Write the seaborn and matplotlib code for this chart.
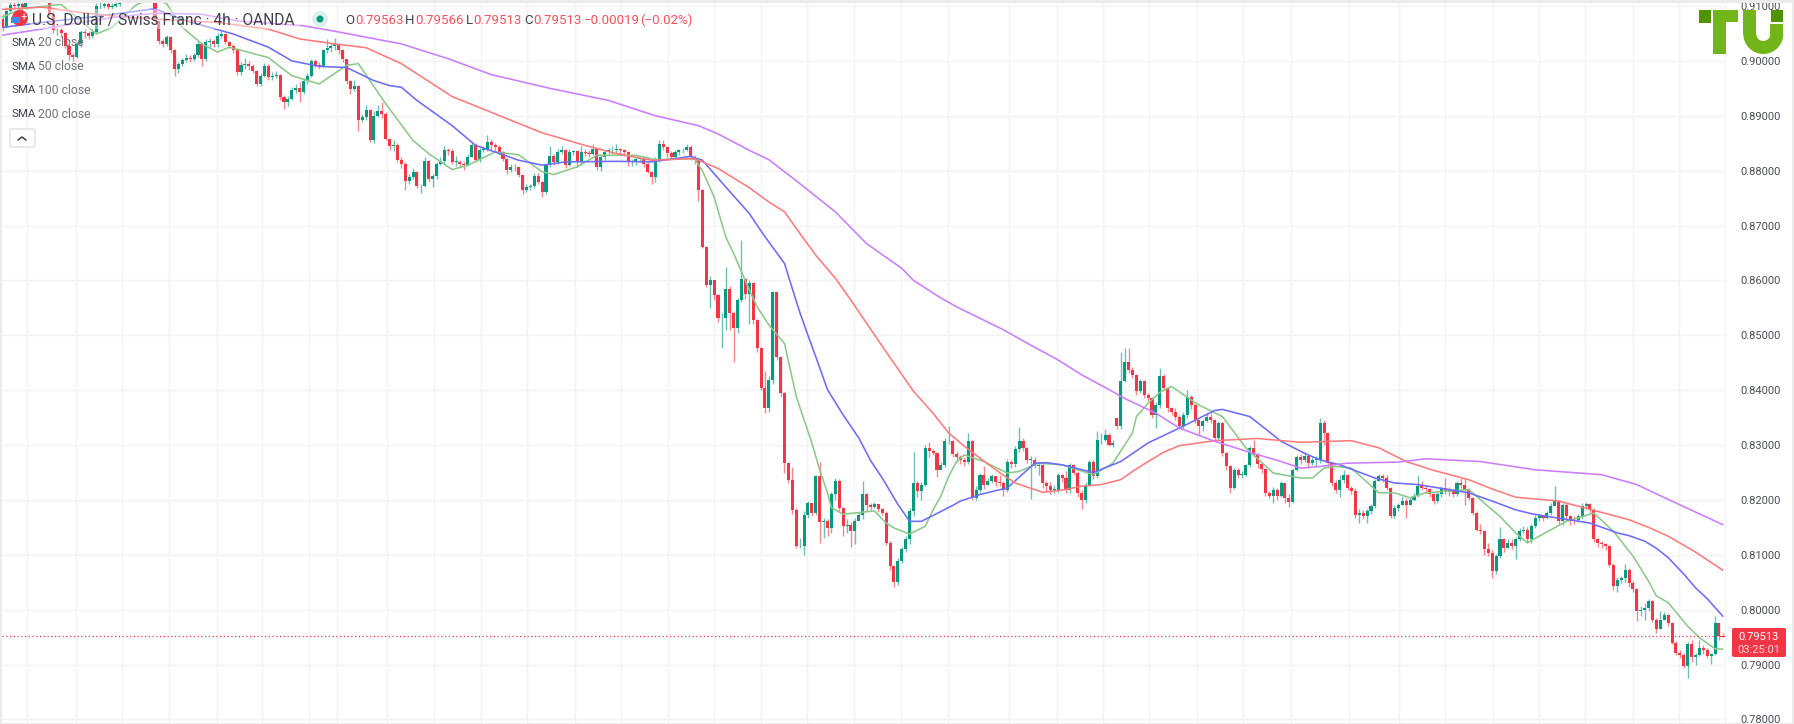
#!/usr/bin/env python
"""USD/CHF 4h candles with SMA 20/50/100/200."""
import matplotlib
matplotlib.use('Agg')
import matplotlib.pyplot as plt
from matplotlib.patches import Circle, FancyBboxPatch, Rectangle, Wedge
import numpy as np
import pandas as pd
import seaborn as sns

# candle values, price x 10000, 12 bars a row
closes = [
    9061, 9091, 9102, 9100, 9103, 9098, 9108, 9112, 9114, 9112, 9115, 9113,
    9085, 9056, 9056, 9050, 9028, 9010, 9008, 9030, 9052, 9050, 9045, 9053,
    9100, 9100, 9104, 9098, 9100, 9103, 9112, 9116, 9120, 9118, 9122, 9125,
    9120, 9124, 9128, 9073, 9037, 9031, 9043, 9019, 8985, 8994, 9001, 9006,
    9004, 9010, 9031, 9004, 9034, 9037, 9030, 9046, 9049, 9034, 9028, 9019,
    8979, 8992, 8995, 8990, 8982, 8958, 8973, 8991, 8970, 8972, 8974, 8934,
    8925, 8931, 8947, 8950, 8943, 8964, 8973, 9000, 8992, 8991, 9019, 9024,
    9027, 9030, 9019, 9003, 8964, 8949, 8955, 8892, 8897, 8910, 8856, 8900,
    8909, 8904, 8858, 8845, 8846, 8820, 8813, 8782, 8789, 8798, 8772, 8772,
    8818, 8785, 8790, 8812, 8818, 8837, 8835, 8816, 8816, 8813, 8810, 8825,
    8846, 8819, 8837, 8840, 8852, 8846, 8843, 8834, 8822, 8801, 8807, 8806,
    8792, 8764, 8770, 8772, 8791, 8779, 8761, 8810, 8827, 8816, 8834, 8837,
    8810, 8834, 8835, 8816, 8834, 8833, 8831, 8840, 8807, 8825, 8834, 8837,
    8838, 8840, 8837, 8834, 8816, 8816, 8822, 8822, 8813, 8798, 8788, 8819,
    8849, 8843, 8832, 8825, 8834, 8837, 8837, 8843, 8825, 8819, 8764, 8661,
    8592, 8601, 8573, 8531, 8531, 8585, 8540, 8513, 8564, 8603, 8576, 8595,
    8528, 8476, 8404, 8367, 8419, 8579, 8461, 8394, 8267, 8237, 8182, 8116,
    8116, 8173, 8194, 8176, 8243, 8160, 8161, 8148, 8210, 8234, 8185, 8152,
    8155, 8143, 8161, 8173, 8210, 8190, 8188, 8192, 8183, 8177, 8122, 8079,
    8050, 8088, 8111, 8128, 8179, 8231, 8216, 8228, 8295, 8290, 8285, 8255,
    8264, 8307, 8307, 8283, 8279, 8273, 8270, 8307, 8204, 8219, 8246, 8228,
    8235, 8243, 8232, 8231, 8218, 8270, 8265, 8292, 8307, 8294, 8273, 8273,
    8261, 8264, 8231, 8225, 8219, 8219, 8246, 8240, 8219, 8264, 8249, 8213,
    8200, 8228, 8270, 8243, 8309, 8310, 8318, 8301, 8304, 8335, 8416, 8452,
    8437, 8428, 8398, 8416, 8392, 8385, 8355, 8373, 8425, 8404, 8367, 8361,
    8352, 8334, 8355, 8388, 8373, 8346, 8334, 8343, 8352, 8346, 8313, 8340,
    8285, 8261, 8222, 8255, 8246, 8246, 8264, 8295, 8282, 8265, 8257, 8213,
    8208, 8219, 8207, 8231, 8204, 8197, 8255, 8279, 8273, 8281, 8267, 8273,
    8273, 8340, 8322, 8267, 8231, 8219, 8237, 8246, 8222, 8216, 8173, 8177,
    8170, 8179, 8189, 8234, 8243, 8240, 8222, 8170, 8185, 8191, 8198, 8191,
    8200, 8207, 8225, 8222, 8220, 8210, 8198, 8210, 8222, 8215, 8218, 8210,
    8231, 8228, 8219, 8204, 8176, 8146, 8143, 8110, 8104, 8070, 8098, 8128,
    8113, 8122, 8116, 8128, 8143, 8146, 8128, 8152, 8167, 8170, 8168, 8176,
    8189, 8198, 8161, 8190, 8170, 8164, 8163, 8170, 8189, 8192, 8182, 8128,
    8122, 8119, 8116, 8082, 8043, 8055, 8058, 8073, 8049, 8037, 7998, 8000,
    8003, 8016, 7982, 7964, 7982, 7990, 7976, 7940, 7922, 7918, 7898, 7937,
    7913, 7918, 7931, 7926, 7916, 7919, 7976, 7952, 7951,
]
highs = [
    9085, 9098, 9112, 9108, 9115, 9112, 9115, 9120, 9120, 9118, 9122, 9120,
    9125, 9092, 9062, 9060, 9052, 9030, 9015, 9034, 9056, 9058, 9054, 9058,
    9106, 9108, 9110, 9108, 9106, 9110, 9118, 9122, 9125, 9125, 9128, 9130,
    9128, 9128, 9134, 9130, 9075, 9040, 9048, 9046, 9022, 8998, 9005, 9012,
    9010, 9014, 9036, 9032, 9040, 9042, 9040, 9050, 9055, 9050, 9036, 9030,
    9020, 8998, 9005, 9000, 8994, 8984, 8978, 8996, 8994, 8980, 8982, 8976,
    8938, 8936, 8952, 8958, 8962, 8968, 8978, 9004, 9003, 8998, 9022, 9040,
    9032, 9042, 9030, 9022, 9004, 8966, 8965, 8956, 8903, 8920, 8912, 8908,
    8920, 8925, 8906, 8860, 8855, 8850, 8824, 8815, 8794, 8804, 8800, 8775,
    8824, 8820, 8794, 8815, 8825, 8845, 8842, 8840, 8826, 8820, 8818, 8830,
    8852, 8850, 8842, 8845, 8865, 8858, 8850, 8846, 8836, 8823, 8812, 8812,
    8806, 8793, 8775, 8776, 8796, 8795, 8782, 8812, 8845, 8830, 8840, 8845,
    8840, 8840, 8838, 8838, 8845, 8840, 8838, 8848, 8842, 8828, 8838, 8842,
    8845, 8848, 8842, 8840, 8835, 8822, 8826, 8825, 8824, 8815, 8800, 8824,
    8855, 8855, 8845, 8835, 8838, 8840, 8842, 8848, 8846, 8828, 8822, 8766,
    8662, 8608, 8600, 8576, 8540, 8625, 8590, 8545, 8568, 8673, 8605, 8600,
    8597, 8530, 8478, 8435, 8425, 8581, 8575, 8462, 8396, 8270, 8260, 8186,
    8130, 8180, 8198, 8195, 8246, 8270, 8168, 8165, 8215, 8240, 8238, 8188,
    8165, 8160, 8168, 8178, 8235, 8213, 8195, 8197, 8192, 8186, 8180, 8125,
    8082, 8094, 8115, 8135, 8185, 8288, 8235, 8232, 8300, 8305, 8292, 8288,
    8270, 8312, 8334, 8310, 8290, 8282, 8278, 8322, 8310, 8225, 8250, 8262,
    8240, 8248, 8244, 8245, 8235, 8275, 8272, 8298, 8333, 8312, 8296, 8280,
    8278, 8270, 8266, 8235, 8232, 8228, 8250, 8248, 8252, 8268, 8266, 8252,
    8218, 8232, 8272, 8272, 8325, 8322, 8330, 8322, 8310, 8349, 8470, 8476,
    8476, 8442, 8430, 8420, 8418, 8395, 8388, 8378, 8440, 8430, 8406, 8370,
    8368, 8354, 8360, 8400, 8392, 8375, 8345, 8348, 8358, 8358, 8348, 8344,
    8342, 8288, 8264, 8258, 8258, 8252, 8266, 8298, 8310, 8285, 8270, 8258,
    8216, 8224, 8222, 8235, 8230, 8210, 8258, 8282, 8284, 8288, 8282, 8278,
    8280, 8349, 8345, 8322, 8267, 8236, 8245, 8255, 8248, 8226, 8222, 8183,
    8182, 8184, 8193, 8238, 8248, 8248, 8245, 8224, 8190, 8195, 8208, 8204,
    8205, 8212, 8245, 8235, 8225, 8222, 8212, 8215, 8226, 8240, 8224, 8220,
    8235, 8240, 8240, 8222, 8206, 8180, 8156, 8145, 8122, 8108, 8102, 8150,
    8130, 8128, 8128, 8132, 8148, 8152, 8150, 8156, 8172, 8175, 8172, 8180,
    8195, 8225, 8200, 8195, 8195, 8172, 8170, 8175, 8195, 8197, 8195, 8186,
    8130, 8126, 8122, 8118, 8085, 8060, 8062, 8083, 8076, 8052, 8040, 8006,
    8012, 8020, 8018, 7985, 7998, 7995, 7992, 7978, 7943, 7926, 7922, 7942,
    7945, 7922, 7945, 7935, 7930, 7922, 7988, 7976, 7957,
]
lows = [
    9055, 9060, 9088, 9095, 9097, 9090, 9095, 9105, 9106, 9106, 9108, 9108,
    9082, 9050, 9048, 9044, 9024, 9002, 9000, 9005, 9026, 9042, 9040, 9042,
    9050, 9094, 9096, 9092, 9094, 9098, 9100, 9110, 9112, 9112, 9116, 9118,
    9115, 9118, 9120, 9070, 9030, 9025, 9028, 9015, 8972, 8978, 8990, 8998,
    8998, 9000, 9007, 8990, 9000, 9026, 9025, 9026, 9042, 9030, 9024, 9014,
    8975, 8975, 8986, 8984, 8978, 8955, 8955, 8970, 8966, 8966, 8968, 8928,
    8912, 8918, 8928, 8942, 8926, 8940, 8958, 8970, 8988, 8985, 8988, 9015,
    9016, 9020, 9012, 8998, 8958, 8940, 8945, 8872, 8888, 8892, 8852, 8850,
    8898, 8896, 8855, 8838, 8835, 8815, 8805, 8765, 8775, 8785, 8768, 8760,
    8770, 8780, 8770, 8785, 8810, 8812, 8828, 8812, 8808, 8805, 8802, 8808,
    8824, 8815, 8815, 8834, 8835, 8838, 8835, 8828, 8818, 8794, 8798, 8800,
    8788, 8758, 8762, 8765, 8768, 8775, 8752, 8758, 8806, 8810, 8812, 8830,
    8805, 8808, 8828, 8806, 8810, 8826, 8825, 8828, 8802, 8800, 8820, 8830,
    8830, 8832, 8828, 8826, 8808, 8808, 8810, 8816, 8806, 8795, 8775, 8780,
    8815, 8838, 8825, 8820, 8822, 8828, 8832, 8835, 8820, 8812, 8745, 8660,
    8588, 8549, 8565, 8525, 8476, 8510, 8510, 8452, 8505, 8560, 8566, 8520,
    8520, 8470, 8400, 8358, 8360, 8412, 8455, 8388, 8250, 8230, 8175, 8112,
    8112, 8100, 8168, 8170, 8172, 8122, 8130, 8135, 8140, 8200, 8180, 8135,
    8140, 8115, 8120, 8168, 8165, 8180, 8182, 8185, 8178, 8172, 8118, 8072,
    8042, 8045, 8085, 8105, 8120, 8170, 8205, 8200, 8225, 8278, 8282, 8242,
    8255, 8260, 8302, 8278, 8270, 8266, 8262, 8265, 8200, 8200, 8215, 8220,
    8228, 8230, 8225, 8225, 8208, 8215, 8258, 8260, 8288, 8290, 8268, 8202,
    8258, 8245, 8222, 8215, 8210, 8212, 8214, 8232, 8212, 8212, 8245, 8205,
    8183, 8195, 8225, 8238, 8240, 8302, 8308, 8298, 8296, 8330, 8330, 8415,
    8432, 8422, 8392, 8395, 8385, 8380, 8350, 8332, 8368, 8400, 8360, 8355,
    8345, 8330, 8330, 8350, 8365, 8340, 8318, 8325, 8342, 8340, 8308, 8310,
    8280, 8255, 8212, 8220, 8240, 8240, 8243, 8260, 8278, 8258, 8250, 8208,
    8203, 8195, 8200, 8205, 8195, 8188, 8195, 8252, 8265, 8270, 8258, 8264,
    8262, 8268, 8300, 8262, 8225, 8212, 8205, 8230, 8218, 8210, 8168, 8158,
    8165, 8158, 8174, 8185, 8235, 8232, 8218, 8168, 8168, 8180, 8190, 8168,
    8190, 8198, 8205, 8218, 8212, 8205, 8192, 8195, 8205, 8210, 8208, 8205,
    8208, 8222, 8190, 8200, 8172, 8143, 8138, 8100, 8098, 8058, 8065, 8095,
    8105, 8112, 8110, 8093, 8125, 8140, 8122, 8122, 8148, 8162, 8162, 8165,
    8172, 8192, 8155, 8155, 8162, 8155, 8156, 8160, 8166, 8185, 8175, 8124,
    8115, 8112, 8108, 8078, 8036, 8032, 8048, 8050, 8042, 8032, 7980, 7988,
    7982, 7998, 7978, 7958, 7965, 7982, 7970, 7938, 7918, 7912, 7894, 7875,
    7905, 7900, 7915, 7920, 7912, 7902, 7917, 7945, 7951,
]
first_open = 9076
gap_bar = 285
gap_open = 8349

# moving averages as (bar, price x 10000), read where the line bends
sma20 = [(0, 9080), (5, 9095), (15, 9103), (19, 9079), (24, 9049), (28, 9061), (34, 9101), (38, 9115),
         (42, 9104), (46, 9061), (51, 9031), (55, 9016), (58, 9025), (68, 9006), (74, 8973), (81, 8958),
         (88, 8992), (91, 8995), (98, 8922), (105, 8855), (109, 8831), (115, 8802), (119, 8810), (126, 8834),
         (132, 8829), (138, 8798), (141, 8793), (147, 8807), (152, 8828), (162, 8828), (167, 8820), (177, 8822),
         (179, 8800), (182, 8752), (185, 8679), (187, 8649), (189, 8616), (191, 8583), (193, 8552), (196, 8519),
         (200, 8485), (203, 8389), (205, 8346), (207, 8304), (209, 8255), (211, 8213), (212, 8186), (215, 8174),
         (223, 8180), (226, 8158), (228, 8149), (232, 8138), (236, 8152), (238, 8182), (240, 8207), (242, 8243),
         (244, 8270), (246, 8282), (251, 8270), (257, 8249), (260, 8252), (265, 8267), (271, 8264), (279, 8246),
         (284, 8267), (289, 8322), (290, 8352), (293, 8376), (296, 8396), (299, 8407), (302, 8392), (306, 8373),
         (312, 8352), (318, 8295), (325, 8249), (332, 8240), (335, 8240), (338, 8258), (341, 8261), (345, 8258),
         (352, 8213), (356, 8213), (360, 8204), (364, 8213), (375, 8219), (380, 8188), (383, 8170), (387, 8140),
         (390, 8122), (393, 8134), (400, 8161), (407, 8176), (412, 8143), (417, 8098), (421, 8052), (423, 8025),
         (426, 8013), (431, 7970), (434, 7949), (438, 7929), (440, 7928)]
sma50 = [(0, 9061), (10, 9070), (25, 9082), (39, 9095), (47, 9073), (59, 9049), (68, 9025), (74, 9000),
         (81, 8990), (88, 8988), (95, 8964), (99, 8955), (102, 8952), (106, 8928), (115, 8882), (121, 8846),
         (126, 8834), (132, 8819), (138, 8810), (144, 8816), (157, 8817), (166, 8816), (176, 8826), (179, 8819),
         (185, 8770), (188, 8746), (191, 8722), (194, 8690), (196, 8670), (200, 8631), (202, 8585), (204, 8540),
         (206, 8500), (208, 8461), (211, 8401), (215, 8355), (219, 8313), (222, 8272), (225, 8240), (229, 8192),
         (232, 8161), (235, 8161), (240, 8179), (243, 8190), (245, 8198), (248, 8205), (250, 8210), (257, 8222),
         (264, 8267), (267, 8268), (271, 8264), (279, 8250), (286, 8270), (293, 8304), (301, 8331), (310, 8363),
         (312, 8365), (319, 8352), (327, 8307), (333, 8285), (337, 8273), (342, 8264), (351, 8240), (356, 8231),
         (362, 8228), (375, 8213), (381, 8198), (387, 8182), (391, 8175), (396, 8169), (406, 8158), (413, 8140),
         (416, 8135), (420, 8125), (423, 8112), (426, 8095), (430, 8065), (433, 8040), (436, 8020), (440, 7988)]
sma100 = [(0, 9094), (10, 9098), (20, 9088), (31, 9080), (42, 9075), (55, 9070), (68, 9058), (76, 9040),
          (85, 9031), (93, 9024), (102, 8995), (115, 8935), (138, 8869), (149, 8846), (157, 8831), (166, 8819),
          (177, 8822), (183, 8804), (191, 8769), (196, 8743), (200, 8725), (204, 8685), (208, 8646), (213, 8604),
          (217, 8564), (221, 8522), (225, 8480), (233, 8398), (238, 8358), (242, 8322), (246, 8298), (250, 8276),
          (255, 8250), (259, 8231), (266, 8214), (271, 8218), (276, 8225), (281, 8228), (286, 8237), (289, 8252),
          (293, 8270), (297, 8287), (301, 8299), (310, 8308), (321, 8312), (332, 8305), (345, 8308), (352, 8295),
          (359, 8270), (366, 8254), (375, 8237), (381, 8220), (387, 8205), (398, 8198), (406, 8183), (416, 8164),
          (421, 8150), (426, 8134), (433, 8105), (440, 8072)]
sma200 = [(0, 9047), (10, 9058), (20, 9070), (30, 9081), (40, 9087), (51, 9085), (60, 9073), (77, 9064),
          (85, 9054), (102, 9031), (114, 9004), (125, 8975), (140, 8950), (155, 8928), (167, 8900), (178, 8882),
          (183, 8867), (187, 8852), (191, 8837), (196, 8820), (204, 8776), (213, 8725),
          (221, 8667), (230, 8622), (233, 8600), (240, 8568), (244, 8552), (248, 8538), (256, 8510),
          (263, 8482), (270, 8455), (276, 8428), (282, 8405), (287, 8385), (295, 8358), (301, 8331), (310, 8307),
          (318, 8289), (327, 8270), (332, 8258), (337, 8261), (344, 8267), (357, 8269), (364, 8275), (378, 8270),
          (392, 8255), (409, 8246), (418, 8228), (426, 8201), (440, 8155)]

price_ticks = [0.78, 0.79, 0.80, 0.81, 0.82, 0.83, 0.84, 0.85, 0.86, 0.87, 0.88, 0.89, 0.90, 0.91]
day_ticks = [6.3, 18.8, 30.6, 42.6, 54.9, 66.4, 78.4, 85.5, 98.3, 110.4, 122.4, 134.2, 146.4, 158.2, 170.2,
             182, 194, 205.8, 217.8, 229.8, 241.8, 257.4, 269.7, 281.5, 293.2, 305.5, 317.3, 329.5, 344.4,
             357.2, 369, 381.2, 393, 404.7, 417, 428.8, 440.5]
last_price = 0.79513
sma_labels = ["20 close", "50 close", "100 close", "200 close"]
ohlc_labels = ["O", "H", "L", "C"]
ohlc_values = ["0.79563", "0.79566", "0.79513", "0.79513"]
change_text = "\u22120.00019"
change_pct = "(\u22120.02%)"

UP = "#089981"
DOWN = "#f23645"
TEXT = "#3d404a"

sns.set_theme(style="white")
plt.rcParams['font.family'] = ['Roboto', 'DejaVu Sans']

fig = plt.figure(figsize=(17.94, 7.24), dpi=100, facecolor="#ebebeb")
W, H = 1794, 724

# white panel and the grey band that sits over the top label
fig.add_artist(Rectangle((2 / W, 1 / H), 1790 / W, 720 / H, transform=fig.transFigure, fc="white", ec="none", zorder=-1))
fig.add_artist(Rectangle((0, 721 / H), 1, 3 / H, transform=fig.transFigure, fc="#ebebeb", ec="none", zorder=5))

ax = fig.add_axes([2 / W, 1 / H, 1724 / W, 720 / H], zorder=1)
ax.patch.set_alpha(0)

closes_p = np.array(closes) / 10000
highs_p = np.array(highs) / 10000
lows_p = np.array(lows) / 10000
opens_p = np.r_[first_open / 10000, closes_p[:-1]]
opens_p[gap_bar] = gap_open / 10000
bars = np.arange(len(closes_p))
rising = closes_p >= opens_p
colors = np.where(rising, UP, DOWN)

ax.vlines(bars, lows_p, highs_p, colors=colors, linewidth=1.0, alpha=0.6, zorder=2)
ax.bar(bars, np.maximum(np.abs(closes_p - opens_p), 0.00008), bottom=np.minimum(opens_p, closes_p),
       width=0.78, color=colors, linewidth=0, zorder=3)

for knots, col in [(sma20, "#8bc98b"), (sma50, "#6c6cf7"), (sma100, "#ff7b7b"), (sma200, "#c97dff")]:
    df = pd.DataFrame(knots, columns=["bar", "price"])
    df["price"] = df["price"] / 10000
    line = sns.lineplot(data=df, x="bar", y="price", color=col, linewidth=1.15, ax=ax, legend=False,
                        errorbar=None, zorder=4)
    line.lines[-1].set_solid_joinstyle("round")

ax.axhline(last_price, color=DOWN, linewidth=0.9, linestyle=(0, (1, 2)), zorder=4)

ax.set_xlim(-0.13, 440.8)
ax.set_ylim(0.77936, 0.91055)
ax.set_xticks(day_ticks)
ax.set_xticklabels([])
ax.set_yticks(price_ticks)
ax.set_yticklabels([f"{p:.5f}" for p in price_ticks], fontsize=8, color="#4a4e58")
ax.yaxis.tick_right()
ax.tick_params(length=0, pad=10)
ax.grid(True, color="#f3f3f5", linewidth=1)
ax.set_axisbelow(True)
ax.set_xlabel("")
ax.set_ylabel("")
for s in ax.spines.values():
    s.set_visible(False)

# overlay in picture pixels for the chart furniture
ov = fig.add_axes([0, 0, 1, 1], zorder=3)
ov.set_xlim(0, W)
ov.set_ylim(H, 0)
ov.axis("off")

ov.add_patch(Rectangle((30, 9), 270, 20, fc="white", alpha=0.45, ec="none"))
ov.add_patch(Circle((20, 18), 8, fc="#f23645", ec="none"))
ov.add_patch(Rectangle((11, 17), 9, 6, fc="#3d8bf0", ec="none"))
ov.text(24, 17.5, "+", color="white", fontsize=8, ha="center", va="center")
ov.text(32, 20, "U.S. Dollar / Swiss Franc \u00b7 4h \u00b7 OANDA", color=TEXT, fontsize=11.2, va="center")
ov.add_patch(Circle((320, 19), 8, fc=UP, alpha=0.15, ec="none"))
ov.add_patch(Circle((320, 19), 3.5, fc=UP, ec="none"))

for lab, val, x0, x1 in zip(ohlc_labels, ohlc_values, [345, 405, 466, 524], [355, 415, 473, 533]):
    ov.text(x0, 20, lab, color=TEXT, fontsize=9.5, va="center")
    ov.text(x1, 20, val, color="#f4505e", fontsize=9.5, va="center")
ov.text(584, 20, change_text, color="#f4505e", fontsize=9.5, va="center")
ov.text(640, 20, change_pct, color="#f4505e", fontsize=9.5, va="center")

for k, lab in enumerate(sma_labels):
    y = 43 + 23.7 * k
    ov.text(11, y, "SMA", color=TEXT, fontsize=8.2, va="center")
    ov.text(37.5, y, lab, color="#70737e", fontsize=8.8, va="center")

ov.add_patch(FancyBboxPatch((10, 129), 25, 18, boxstyle="round,pad=0,rounding_size=2", fc="white", ec="#d6d8de", linewidth=0.8))
ov.plot([18, 22, 26], [140, 137, 140], color=TEXT, linewidth=1.1)

# last price tag
ov.add_patch(FancyBboxPatch((1732, 628), 54, 29, boxstyle="round,pad=0,rounding_size=2", fc=DOWN, ec="none"))
ov.text(1759, 637, "0.79513", color="white", fontsize=8, ha="center", va="center")
ov.text(1759, 650, "03:25:01", color="#fbd5d9", fontsize=8, ha="center", va="center")

# TU logo
logo = "#72b51b"
ov.add_patch(Rectangle((1698.5, 10), 12, 12.5, fc="#4f9400", ec="none"))
ov.add_patch(Rectangle((1713.3, 10), 25, 12, fc=logo, ec="none"))
ov.add_patch(Rectangle((1713.3, 10), 12.7, 43.5, fc=logo, ec="none"))
ov.add_patch(Rectangle((1743.3, 10), 13, 24, fc=logo, ec="none"))
ov.add_patch(Rectangle((1770.3, 23.5), 13, 10.5, fc=logo, ec="none"))
ov.add_patch(Wedge((1763.3, 34), 20, 0, 180, width=13, fc=logo, ec="none"))
ov.add_patch(Rectangle((1771, 10), 12.3, 12, fc="#4f9400", ec="none"))

fig.savefig("out.png", dpi=100, facecolor=fig.get_facecolor())
